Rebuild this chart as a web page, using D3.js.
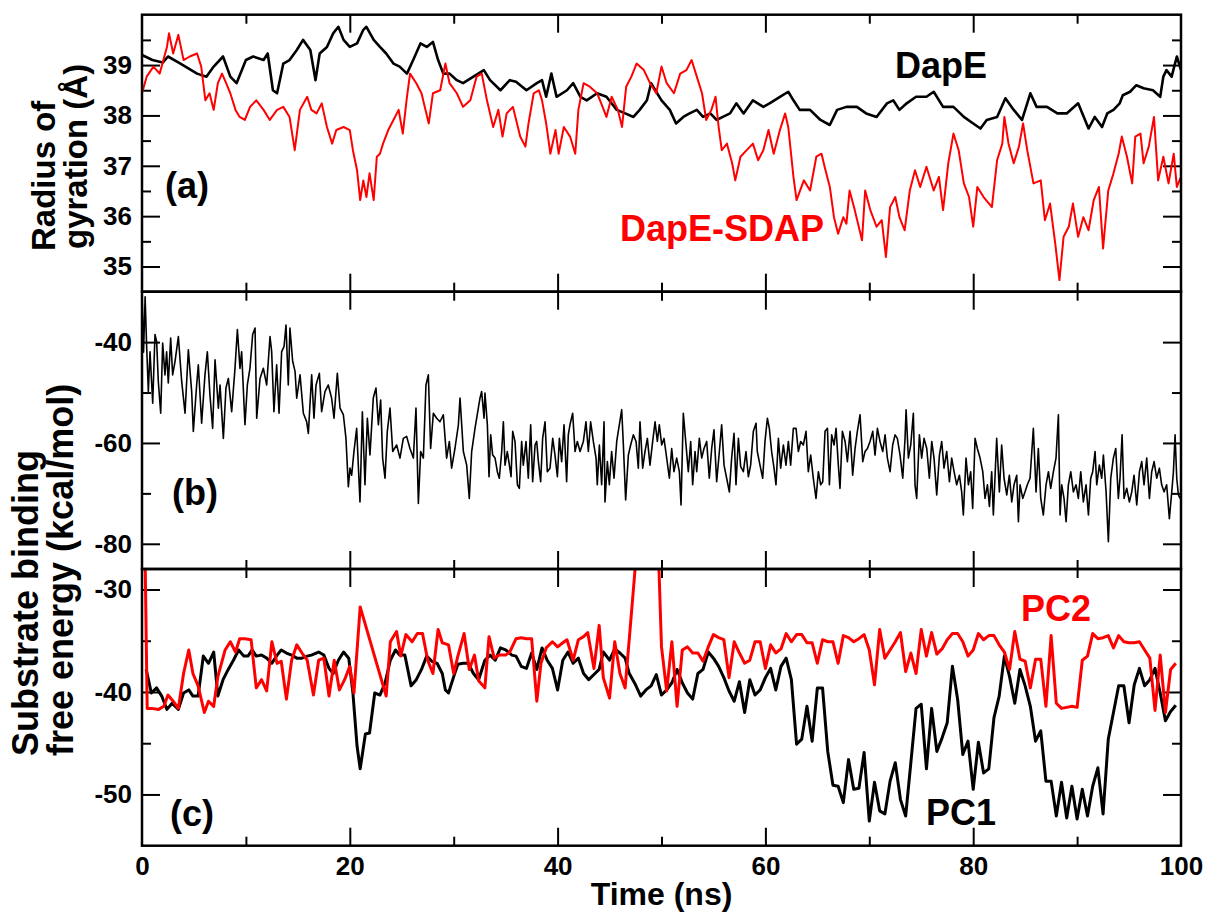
<!DOCTYPE html>
<html>
<head>
<meta charset="utf-8">
<script src="https://cdn.jsdelivr.net/npm/d3@7"></script>
<style>
  body { margin: 0; background: #fff; }
  text { font-family: "Liberation Sans", Arial, Helvetica, sans-serif; font-weight: bold; }
</style>
</head>
<body>
<div id="chart"></div>
<script>
// ---- panel (a): radius of gyration (Å) ----
const dapeTime = [
  0,1,2,2.5,3.7,5.3,6.2,6.9,7.8,8.5,
  9.1,10,10.7,11.7,12.1,12.6,13,13.6,14.2,14.9,
  15.5,16.2,16.7,17.1,17.8,18.4,18.9,19.4,20,20.7,
  21.3,21.6,22.3,22.9,23.5,24.2,24.8,25.5,26.1,26.8,
  27.4,28,28.5,29,29.6,30.3,30.9,31.9,32.9,33.5,
  34.5,35.4,36,37,38,38.5,38.9,39.4,39.9,40.9,
  41.5,42.2,42.8,43.8,44.7,45.7,46.5,47.3,47.9,48.6,
  49,49.4,50,50.8,51.4,52.1,52.7,53.4,54,54.7,
  55.3,55.9,56.6,57.2,57.9,58.8,59.8,60.4,61.4,62.2,
  62.7,63.3,64.3,65.3,66.2,66.9,67.8,68.8,69.7,70.7,
  71.7,72.3,72.9,73.6,74.5,75.5,76.2,77.1,78.1,79.1,
  80,80.7,81.3,82.3,83.1,83.9,84.7,85.5,86.1,87.1,
  88.1,89,90.1,91.1,91.7,92.4,92.9,93.5,94.1,94.4,
  95.1,95.7,96.4,97.3,98,98.3,98.6,99.1,99.6,100
];
const dapeRg = [
  39.2,39.1,39.05,39.17,39.03,38.83,38.77,38.97,39.17,38.77,
  38.64,39.1,39.17,39.1,39.23,38.5,38.44,39.03,39.1,39.3,
  39.5,39.3,38.7,39.23,39.36,39.63,39.76,39.5,39.36,39.43,
  39.7,39.76,39.5,39.36,39.23,39.03,38.97,38.83,39.1,39.43,
  39.36,39.46,39.1,38.83,38.83,38.7,38.64,38.77,38.9,38.7,
  38.5,38.7,38.67,38.5,38.64,38.7,38.37,38.83,38.37,38.5,
  38.64,38.37,38.3,38.44,38.37,38.11,38.04,37.97,38.11,38.3,
  38.64,38.5,38.3,38.11,37.84,37.97,38.04,38.11,37.97,38.04,
  37.91,37.97,38.04,38.24,38.04,38.3,38.17,38.24,38.37,38.47,
  38.3,38.11,38.11,37.91,37.81,38.11,38.17,38.17,38.04,37.97,
  38.24,38.3,38.11,38.24,38.37,38.37,38.47,38.17,38.17,37.97,
  37.84,37.74,37.91,37.97,38.34,38.11,37.91,38.44,38.17,38.17,
  38.04,38.04,38.24,37.74,37.97,37.77,38.04,38.11,38.24,38.4,
  38.47,38.6,38.54,38.5,38.37,38.77,38.9,38.77,39.17,38.9
];
const sdapTime = [
  0,0.45,1.1,1.7,2.4,2.6,3,3.5,4,4.6,
  5.3,5.7,6.1,6.5,6.9,7.3,7.7,8.1,8.5,9,
  9.4,9.9,10.4,11,11.7,12.3,13,13.6,14.2,14.7,
  15.2,15.9,16.3,16.8,17.3,17.8,18.3,18.7,19.4,20,
  20.3,20.7,21,21.3,21.6,21.9,22.3,22.6,22.9,23.2,
  23.7,24.2,24.7,25.1,25.5,25.8,26.4,26.9,27.6,28,
  28.7,29.2,29.6,30.3,30.9,31.6,32.2,32.7,33.2,33.8,
  34.3,34.7,35.1,35.7,36.4,36.9,37.2,37.7,38.2,38.5,
  38.9,39.3,39.8,40.1,40.6,41.2,41.7,42,42.5,43.1,
  43.8,44.2,44.7,45.2,45.8,46.2,46.6,47.1,47.6,48.3,
  48.9,49.5,50,50.5,51.2,51.8,52.4,52.9,53.4,53.9,
  54.3,54.8,55.2,55.5,55.8,56.3,56.8,57.1,57.6,58.2,
  58.8,59.3,59.8,60.3,60.8,61.4,61.9,62.2,62.7,63,
  63.7,64.3,64.9,65.4,65.7,66.2,66.6,67,67.5,67.8,
  68.1,68.6,69.3,69.6,70.1,70.7,71.2,71.6,72,72.5,
  72.9,73.4,73.9,74.4,74.9,75.5,76.2,76.7,77.1,77.6,
  78.1,78.6,79.1,79.6,80,80.4,81,81.8,82.3,82.8,
  83,83.4,83.9,84.4,84.8,85.2,85.8,86.5,86.9,87.4,
  87.9,88.3,88.7,89.2,89.6,90.1,90.6,91.1,91.6,92.1,
  92.5,93,93.5,94,94.3,94.8,95.3,95.6,96.1,96.4,
  96.9,97.4,97.8,98.3,98.8,99.3,99.6,100
];
const sdapRg = [
  38.44,38.77,38.97,38.83,39.36,39.63,39.23,39.6,39.1,39.17,
  39.23,38.97,38.3,38.44,38.11,38.64,38.83,38.64,38.44,38.11,
  37.97,37.91,38.17,38.3,38.11,37.91,38.11,38.17,37.97,37.31,
  38.11,38.37,38.11,38.04,38.24,37.77,37.44,37.71,37.77,37.71,
  37.31,36.91,36.32,36.71,36.38,36.85,36.32,37.18,37.24,37.44,
  37.71,37.91,38.11,37.64,38.37,38.83,38.64,38.44,37.84,38.44,
  38.5,39.03,38.64,38.44,38.17,38.3,38.77,38.83,38.3,37.77,
  38.11,37.58,38.04,38.17,37.58,37.38,37.84,38.44,38.5,38.3,
  37.84,37.24,37.71,37.24,37.77,37.58,37.24,38.11,38.64,38.57,
  38.44,38.24,37.97,38.37,38.11,37.77,38.57,38.77,39.03,38.9,
  38.64,38.44,38.97,38.64,38.44,38.83,38.9,39.1,38.77,38.44,
  37.91,38.11,38.37,37.77,37.31,37.44,37.05,36.71,37.18,37.31,
  37.44,37.11,37.31,37.71,37.24,37.71,38.04,37.77,36.78,36.32,
  36.71,36.51,37.18,37.24,36.98,36.58,35.98,35.65,35.98,35.85,
  36.51,36.12,35.52,36.51,36.12,35.79,35.92,35.19,36.18,36.38,
  35.98,35.72,36.51,36.91,36.58,36.98,36.51,36.78,36.12,37.05,
  37.64,37.31,36.65,36.38,35.79,36.58,36.38,36.18,37.11,37.44,
  37.97,37.44,37.05,37.38,37.84,37.31,36.65,36.71,35.92,36.25,
  35.45,34.73,35.59,35.79,36.25,35.59,35.98,35.72,36.32,36.58,
  35.36,36.51,36.85,37.24,37.58,37.18,36.65,37.58,37.64,37.05,
  37.38,37.97,36.71,37.18,36.65,37.24,36.58,36.78
];

// ---- panel (b): substrate binding free energy (kcal/mol) ----
const bindTime = [
  0,0.15,0.3,0.45,0.61,0.77,1.03,1.25,1.41,1.57,
  1.8,1.99,2.21,2.37,2.53,2.76,2.95,3.18,3.5,3.82,
  4.14,4.46,4.78,4.94,5.26,5.42,5.74,6.06,6.29,6.54,
  6.8,7.03,7.35,7.51,7.83,8.08,8.31,8.63,8.95,9.18,
  9.43,9.59,9.91,10.14,10.39,10.65,10.88,11.04,11.36,11.68,
  12,12.32,12.48,12.7,12.96,13.19,13.44,13.67,13.86,14.08,
  14.24,14.5,14.73,14.89,15.21,15.53,15.85,16.01,16.33,16.55,
  16.75,17.07,17.29,17.61,17.93,18.25,18.48,18.8,19.06,19.38,
  19.63,19.86,20.02,20.18,20.4,20.66,20.98,21.21,21.46,21.69,
  21.94,22.26,22.52,22.75,22.97,23.16,23.39,23.61,23.87,24.13,
  24.51,24.83,25.15,25.47,25.79,26.12,26.37,26.6,26.82,27.08,
  27.33,27.56,27.78,28.04,28.36,28.68,29,29.32,29.58,29.8,
  30.12,30.45,30.61,30.93,31.25,31.5,31.73,32.05,32.37,32.53,
  32.69,32.92,33.01,33.24,33.4,33.56,33.75,33.98,34.2,34.39,
  34.62,34.78,34.94,35.16,35.36,35.52,35.68,35.9,36.13,36.32,
  36.54,36.7,36.96,37.18,37.41,37.6,37.83,37.99,38.15,38.37,
  38.56,38.79,39.01,39.27,39.53,39.75,39.98,40.17,40.39,40.62,
  40.87,41.03,41.19,41.45,41.68,41.9,42.16,42.48,42.73,42.96,
  43.18,43.44,43.7,43.82,44.02,44.24,44.47,44.56,44.79,44.98,
  45.2,45.43,45.69,45.94,46.17,46.33,46.55,46.81,47.03,47.29,
  47.55,47.77,47.93,48.19,48.41,48.64,48.89,49.15,49.38,49.6,
  49.79,50.02,50.24,50.5,50.76,50.98,51.2,51.46,51.72,51.88,
  52.1,52.36,52.58,52.81,53,53.23,53.39,53.64,53.87,54.09,
  54.35,54.6,54.83,55.05,55.31,55.57,55.79,56.02,56.27,56.53,
  56.75,56.98,57.17,57.4,57.62,57.88,58.13,58.36,58.58,58.84,
  59.1,59.22,59.48,59.74,59.96,60.19,60.38,60.6,60.83,61.02,
  61.25,61.47,61.73,61.98,62.21,62.43,62.69,62.95,63.17,63.4,
  63.65,63.91,64.13,64.36,64.61,64.87,65.1,65.32,65.52,65.74,
  65.97,66.16,66.38,66.61,66.8,67.02,67.18,67.41,67.67,67.89,
  68.15,68.4,68.63,68.85,69.11,69.37,69.59,69.82,70.07,70.33,
  70.55,70.78,71.03,71.29,71.52,71.74,72,72.25,72.48,72.7,
  72.96,73.22,73.44,73.54,73.76,73.99,74.24,74.4,74.56,74.82,
  75.04,75.27,75.53,75.78,76.01,76.23,76.49,76.75,76.97,77.19,
  77.45,77.71,77.93,78.16,78.41,78.67,78.89,79.05,79.31,79.54,
  79.76,79.95,80.18,80.4,80.66,80.92,81.14,81.37,81.56,81.78,
  81.94,82.26,82.52,82.74,82.97,83.23,83.48,83.71,83.93,84.19,
  84.35,84.51,84.77,84.99,85.21,85.47,85.79,86.05,86.27,86.5,
  86.75,87.01,87.24,87.46,87.72,87.97,88.2,88.36,88.52,88.74,
  88.94,89.16,89.39,89.64,89.9,90.12,90.35,90.6,90.86,91.09,
  91.31,91.5,91.73,91.89,92.14,92.37,92.53,92.79,93.01,93.24,
  93.49,93.72,93.97,94.13,94.33,94.52,94.78,95.03,95.26,95.48,
  95.74,96,96.22,96.44,96.7,96.96,97.18,97.41,97.66,97.92,
  98.14,98.37,98.62,98.88,99.11,99.27,99.43,99.59,99.75,99.91
];
const bindEnergy = [
  -30,-42,-31,-41,-49.8,-41.9,-52.1,-38.5,-39.9,-47.8,
  -54.1,-40.2,-46.5,-41.9,-48.1,-39.2,-46.5,-43.8,-38.9,-47.8,
  -54.1,-41.5,-49.8,-57.7,-48.5,-44.5,-56.1,-46.5,-41.9,-50.5,
  -57.1,-43.5,-53.1,-48.5,-59.1,-49.1,-47.2,-53.8,-45.2,-37.5,
  -45.2,-41.9,-56.4,-48.5,-45.2,-38.5,-37.2,-55.1,-47.2,-45.2,
  -48.5,-38.9,-41.9,-53.8,-44.5,-54.1,-41.9,-40.9,-36.6,-48.5,
  -37.2,-43.8,-45.8,-51.1,-46.5,-54.1,-55.8,-58.1,-46.5,-55.1,
  -48.5,-46.2,-53.8,-49.8,-48.5,-51.1,-55.1,-46.2,-53.1,-54.4,
  -59.1,-68.7,-65,-66.4,-61.7,-57.1,-71.7,-53.8,-68.3,-55.1,
  -62.4,-51.1,-49.1,-56.4,-51.5,-63,-67,-57.7,-53.1,-61.7,
  -60.4,-63,-59.1,-58.7,-61.1,-63,-53.1,-72,-61.7,-63,
  -48.5,-46.5,-61.1,-54.1,-55.1,-55.8,-54.4,-63,-59.7,-65,
  -61.1,-56.4,-51.1,-61.7,-64.4,-71,-61.7,-57.1,-53.1,-51.1,
  -49.8,-55.1,-50.1,-56.4,-66.7,-58.4,-62.4,-63,-65.7,-67,
  -61.7,-55.8,-64.4,-61.7,-64.4,-66.7,-57.7,-59.7,-68.3,-69,
  -59.7,-64.4,-59.7,-67,-56.4,-67.7,-60.4,-59.7,-63.7,-67.7,
  -59.1,-55.8,-65.7,-65,-59.1,-62.4,-66.7,-59.1,-63.7,-56.4,
  -67.7,-58.4,-56.4,-54.1,-61.7,-59.7,-61.7,-59.7,-55.8,-61.7,
  -55.8,-59.7,-63,-68.3,-60.4,-68.3,-55.8,-71.7,-63.7,-68.3,
  -61.7,-67,-59.7,-56.4,-53.4,-60.4,-71.3,-62.4,-60.4,-58.4,
  -59.7,-65,-55.8,-65,-61.7,-59.1,-64.4,-59.7,-55.8,-59.7,
  -56.4,-60.4,-59.1,-63,-67,-61.1,-65.7,-63,-65.7,-72.3,
  -54.1,-60.4,-65.7,-59.7,-68.3,-61.7,-65.7,-59.1,-63,-61.1,
  -59.7,-67,-61.1,-57.4,-67.7,-61.7,-56.4,-64.4,-67,-69.7,
  -63,-58.1,-68.3,-59.1,-64.7,-65.7,-61.7,-66.7,-64.4,-57.7,
  -56.1,-61.7,-64.4,-67,-59.7,-55.1,-57.1,-61.7,-65,-68.3,
  -59.1,-65,-60.4,-64.4,-59.7,-64.4,-57.1,-57.1,-61.7,-59.7,
  -60.4,-57.7,-65.7,-62.4,-67,-71,-65.7,-68.3,-67.7,-57.7,
  -57.1,-68.3,-58.4,-60.4,-57.1,-64.4,-69,-57.7,-59.7,-63.7,
  -57.7,-66.4,-61.1,-57.7,-54.4,-63.7,-61.7,-61.1,-59.7,-57.7,
  -62.4,-57.1,-59.7,-61.7,-58.4,-63,-65.7,-60.4,-58.4,-59.1,
  -62.4,-67,-59.1,-53.4,-63,-60.4,-54.1,-68.3,-71,-58.4,
  -63,-59.1,-61.1,-67,-59.7,-63,-70.3,-62.4,-59.7,-65,
  -61.7,-67.7,-63,-65.7,-68.3,-66.4,-69.7,-74.3,-63,-68.3,
  -65.7,-73,-59.1,-61.1,-63,-65.7,-71,-68.3,-72.6,-65.7,
  -74.3,-59.1,-69.7,-60.4,-67,-70.3,-66.4,-71.7,-68.3,-66.4,
  -75.6,-68.3,-71,-69.7,-68.3,-67,-57.1,-69.7,-61.1,-71,
  -74.3,-68.3,-65.7,-69,-65.7,-63,-54.4,-74.3,-68.3,-71,
  -75.6,-68.3,-65.7,-69.7,-68.3,-71,-65.7,-71.7,-68.3,-74.3,
  -67,-65.7,-61.7,-68.3,-64.4,-67,-62.4,-69.7,-79.6,-67,
  -63,-61.1,-71,-67,-58.4,-71,-69,-71.7,-69.7,-66.4,
  -72.3,-65.7,-63.7,-68.3,-63,-71,-65.7,-63.7,-67,-65,
  -68.3,-69.7,-68.3,-75,-69.7,-65.7,-58.4,-67,-70.3,-71
];

// ---- panel (c): PC1 / PC2 (kcal/mol) ----
const pc1Time = [
  0.4,0.9,1.4,1.9,2.4,2.9,3.5,4,4.5,4.9,
  5.4,5.9,6.4,6.9,7.3,7.8,8.3,8.8,9.3,9.8,
  10.2,10.6,11,11.5,12,12.5,13,13.4,13.9,14.4,
  14.9,15.4,15.9,16.3,17,17.5,18,18.4,18.9,19.4,
  19.9,20.3,20.7,21,21.5,21.9,22.4,22.9,23.4,23.9,
  24.4,24.8,25.3,25.9,26.4,26.9,27.4,27.9,28.4,28.9,
  29.2,29.5,30,30.4,30.9,31.4,31.9,32.4,33,33.5,
  34,34.5,35,35.6,36,36.5,37,37.5,38,38.5,
  39,39.5,40,40.5,41,41.5,42,42.5,43,43.5,
  44,44.4,45,45.5,46,46.5,46.9,47.5,48,48.5,
  49,49.5,50,50.5,51,51.5,52,52.5,53,53.5,
  54,54.5,55,55.5,56,56.5,57,57.5,58,58.5,
  59,59.5,60,60.5,61,61.5,62,62.5,63,63.5,
  64,64.5,65,65.5,66,66.5,67,67.5,68,68.5,
  69,69.5,70,70.5,71,71.5,72,72.5,73,73.5,
  74,74.5,75,75.5,76,76.5,77,77.5,78,78.5,
  79,79.5,80,80.5,81,81.5,82,82.5,83,83.5,
  84,84.5,85,85.5,86,86.5,87,87.5,88,88.5,
  89,89.5,90,90.5,91,91.5,92,92.5,93,93.5,
  94,94.5,95,95.5,96,96.5,97,97.5,98,98.5,
  99,99.5
];
const pc1Energy = [
  -37.8,-40.1,-39.6,-40.4,-41.7,-41.1,-41.7,-40.1,-39.8,-40.4,
  -40.4,-36.5,-37.2,-36.1,-40.4,-38.8,-37.8,-36.9,-35.9,-36.5,
  -36.5,-35.9,-36.5,-36.4,-36.7,-37.2,-36.4,-35.9,-36.2,-36.4,
  -36.7,-36.7,-36.5,-36.4,-36.1,-36.4,-37.7,-38.2,-36.9,-36.1,
  -36.7,-40.1,-45.3,-47.5,-44.1,-44,-40.1,-40.3,-39.1,-36.9,
  -35.9,-36.4,-36.4,-39.4,-38.8,-37.8,-36.5,-37,-37.2,-38.2,
  -39.8,-40.1,-38.5,-37.3,-37.2,-37.2,-38.2,-38.8,-36.9,-36.4,
  -36.9,-35.7,-35.9,-36.4,-36.5,-37.5,-37.7,-36.2,-37.8,-35.7,
  -36.9,-37.7,-39.8,-36.9,-36.1,-37.2,-36.7,-38.2,-38.8,-38.3,
  -37.8,-36.1,-36.9,-35.8,-36.2,-36.7,-38.2,-39.3,-40.4,-39.8,
  -39.4,-38.3,-40.3,-39.8,-39.1,-37.8,-39.1,-40.1,-40.7,-38.2,
  -37.8,-36.1,-36.7,-37.5,-38.6,-39.9,-40.9,-39,-42,-38.8,
  -40.3,-39.8,-38.6,-37.7,-39.8,-37.5,-36.7,-38.8,-45.1,-44.6,
  -41.4,-44.8,-39.6,-39.6,-45.8,-49.1,-49.2,-50.8,-46.6,-49.5,
  -49.4,-45.9,-52.6,-48.8,-51.6,-51.9,-48.7,-46.9,-50.5,-52.1,
  -46.9,-41.6,-41.2,-47.5,-41.6,-45.8,-44.5,-43,-37.5,-40.7,
  -46.1,-44.8,-49.5,-44.9,-47.9,-47.5,-42.5,-40.4,-36.5,-38.5,
  -41.1,-37.8,-39.4,-41.4,-44.8,-43.8,-48.7,-48.7,-52.1,-48.8,
  -52.3,-49.2,-52.4,-49.5,-52.1,-49.2,-47.4,-51.9,-44.6,-42,
  -39.4,-39.4,-43,-39.3,-37.7,-39.4,-38.8,-37.7,-40.1,-42.8,
  -41.9,-41.3
];
const pc2Time = [
  0.3,0.5,0.9,1.6,2.1,2.5,3,3.5,4,4.5,
  4.9,5.4,6,6.4,6.9,7.3,8,8.5,9,9.4,
  9.9,10.5,11,11.5,12,12.5,13,13.4,13.9,14.4,
  14.9,15.4,15.9,16.5,17,17.5,18,18.5,19,19.5,
  20,20.4,21,23.5,23.9,24.5,24.9,25.4,26,26.5,
  27,27.5,28,28.5,28.9,29.5,30,30.4,31,31.5,
  32,32.4,33,33.4,33.9,34.4,35,35.4,36,36.5,
  37,37.5,38,38.4,38.9,39.5,40,40.5,40.9,41.5,
  42,42.5,42.9,43.5,44,44.4,45,45.5,46,46.5,
  47,47.5,48,48.5,49,49.5,50,50.5,51,51.5,
  52,52.5,53,53.5,54,54.5,55,55.5,56,56.5,
  57,57.5,58,58.5,59,59.5,60,60.5,61,61.5,
  62,62.5,63,63.5,64,64.5,65,65.5,66,66.5,
  67,67.5,68,68.5,69,69.5,70,70.5,71,71.5,
  72,72.5,73,73.5,74,74.5,75,75.5,76,76.5,
  77,77.5,78,78.5,79,79.5,80,80.5,81,81.5,
  82,82.5,83,83.5,84,84.5,85,85.5,86,86.5,
  87,87.5,88,88.5,89,89.5,90,90.5,91,91.5,
  92,92.5,93,93.5,94,94.5,95,95.5,96,96.5,
  97,97.5,98,98.5,99,99.5
];
const pc2Energy = [
  -27,-41.6,-41.6,-41.7,-41.4,-40.3,-40.9,-41.6,-38.2,-35.9,
  -38.2,-39.4,-42,-40.9,-41.4,-38.5,-35.9,-35.1,-36.1,-34.8,
  -34.8,-34.9,-39.6,-38.8,-39.9,-35.1,-37.2,-37,-40.7,-36.9,
  -35.4,-36.2,-36.9,-40.3,-36.9,-36.7,-40.4,-36.9,-39.8,-38.8,
  -37.5,-40.1,-31.7,-40.4,-35.1,-34.1,-36.5,-34.4,-35.1,-34.3,
  -34.3,-36.9,-38.2,-33.9,-35.2,-35.4,-38.2,-36.5,-34.3,-37.8,
  -36.4,-38.9,-39.6,-34.6,-36.7,-36.4,-36.4,-36.1,-34.8,-34.7,
  -34.8,-34.8,-40.9,-37.2,-35.7,-35.1,-35.6,-35.2,-34.9,-36.9,
  -34.9,-34.6,-34.2,-37.7,-33.5,-38.6,-40.6,-35.1,-38.2,-39.6,
  -33.6,-27.5,-18,-15,-16,-20,-35.6,-39.9,-35.1,-41.4,
  -35.9,-35.6,-36.2,-36.2,-37,-35.6,-34.4,-34.7,-34.9,-38.6,
  -35.1,-36.2,-37.2,-36.9,-35.1,-35.1,-37.7,-35.4,-36.2,-35.8,
  -34.3,-35.1,-34.4,-34.4,-35.2,-35.2,-37.2,-34.9,-35.1,-35.1,
  -37.2,-34.5,-34.7,-35.1,-34.8,-34.4,-35.9,-39.3,-33.9,-36.7,
  -35.9,-35.1,-34.2,-38,-36.2,-38.2,-33.9,-36.5,-34.2,-36.3,
  -35.8,-34.9,-34.3,-34.3,-35.1,-36.5,-35.9,-34.3,-34.9,-34.5,
  -34.5,-35.4,-36.1,-37.8,-34.1,-36.8,-37,-39.6,-36.8,-36.8,
  -41.4,-34.5,-41.1,-41.6,-41.5,-41.4,-41.5,-36.9,-36.5,-34.3,
  -34.8,-34.7,-34.5,-35.7,-34.5,-35.1,-35.2,-35.2,-35.1,-35.9,
  -36.7,-41.8,-36.4,-42,-37.8,-37.2
];

// ticks and labels
const timeTicks = [0, 20, 40, 60, 80, 100];
const timeMinor = [10, 30, 50, 70, 90];
const rgTicks = [35, 36, 37, 38, 39];
const rgMinor = [35.5, 36.5, 37.5, 38.5, 39.5];
const bindTicks = [-40, -60, -80];
const bindMinor = [-50, -70];
const pcTicks = [-30, -40, -50];
const pcMinor = [-35, -45];

const width = 1207, height = 915;
const left = 142, right = 1181;
const red = "#ff0000";
const fontFamily = "'Liberation Sans', Arial, Helvetica, sans-serif";
const plain = d => String(d); // keep the ascii hyphen as minus sign

const svg = d3.select("#chart").append("svg")
  .attr("width", width)
  .attr("height", height)
  .style("background", "#fff");

const x = d3.scaleLinear().domain([0, 100]).range([left, right]);

const panels = [
  { id: "a", top: 14.7, bottom: 291.7, domain: [34.5, 40], major: rgTicks, minor: rgMinor },
  { id: "b", top: 291.7, bottom: 569, domain: [-85, -30], major: bindTicks, minor: bindMinor },
  { id: "c", top: 569, bottom: 845.7, domain: [-55, -28], major: pcTicks, minor: pcMinor },
];

const styleAxis = g => {
  g.select(".domain").remove();
  g.selectAll("line").attr("stroke", "#000").attr("stroke-width", 2);
  g.selectAll("text").attr("font-size", 26).attr("fill", "#000")
    .style("font-family", fontFamily).style("font-weight", "bold");
};

panels.forEach(p => {
  p.y = d3.scaleLinear().domain(p.domain).range([p.bottom, p.top]);

  svg.append("clipPath").attr("id", "clip-" + p.id)
    .append("rect")
    .attr("x", left).attr("y", p.top)
    .attr("width", right - left).attr("height", p.bottom - p.top);

  // y ticks, labelled on the left, mirrored on the right (all pointing in)
  const addY = (axisFn, xpos, values, size, labels) => {
    svg.append("g")
      .attr("transform", `translate(${xpos},0)`)
      .call(axisFn(p.y).tickValues(values).tickSizeInner(-size).tickSizeOuter(0)
        .tickPadding(10).tickFormat(labels ? plain : ""))
      .call(styleAxis);
  };
  addY(d3.axisLeft, left, p.major, 18, true);
  addY(d3.axisLeft, left, p.minor, 9, false);
  addY(d3.axisRight, right, p.major, 18, false);
  addY(d3.axisRight, right, p.minor, 9, false);

  // x ticks on top and bottom of every panel
  const addX = (axisFn, ypos, values, size) => {
    svg.append("g")
      .attr("transform", `translate(0,${ypos})`)
      .call(axisFn(x).tickValues(values).tickSizeInner(-size).tickSizeOuter(0).tickFormat(""))
      .call(styleAxis);
  };
  addX(d3.axisTop, p.top, timeTicks.slice(1, -1), 18);
  addX(d3.axisTop, p.top, timeMinor, 9);
  addX(d3.axisBottom, p.bottom, timeTicks.slice(1, -1), 18);
  addX(d3.axisBottom, p.bottom, timeMinor, 9);
});

// time labels only under panel (c)
svg.append("g")
  .attr("transform", `translate(0,${panels[2].bottom})`)
  .call(d3.axisBottom(x).tickValues(timeTicks).tickSize(0).tickPadding(11).tickFormat(plain))
  .call(styleAxis);

// series
const drawSeries = (p, times, values, color, widthPx) => {
  const pts = d3.zip(times, values);
  const line = d3.line().x(d => x(d[0])).y(d => p.y(d[1]));
  svg.append("path")
    .datum(pts)
    .attr("clip-path", `url(#clip-${p.id})`)
    .attr("fill", "none")
    .attr("stroke", color)
    .attr("stroke-width", widthPx)
    .attr("stroke-linejoin", "round")
    .attr("d", line);
};
drawSeries(panels[0], dapeTime, dapeRg, "#000", 2.6);
drawSeries(panels[0], sdapTime, sdapRg, red, 2);
drawSeries(panels[1], bindTime, bindEnergy, "#000", 1.6);
drawSeries(panels[2], pc1Time, pc1Energy, "#000", 3);
drawSeries(panels[2], pc2Time, pc2Energy, red, 3);

// panel frames
panels.forEach(p => {
  svg.append("rect")
    .attr("x", left).attr("y", p.top)
    .attr("width", right - left).attr("height", p.bottom - p.top)
    .attr("fill", "none").attr("stroke", "#000").attr("stroke-width", 2.5);
});

// annotations
const label = (txt, xp, yp, color, size) => svg.append("text")
  .attr("x", xp).attr("y", yp).attr("fill", color).attr("font-size", size).text(txt);
label("DapE", 895, 78, "#000", 36);
label("DapE-SDAP", 620, 241, red, 36);
label("(a)", 165, 198, "#000", 36);
label("(b)", 172, 505, "#000", 36);
label("(c)", 170, 826, "#000", 36);
label("PC2", 1021, 621, red, 36);
label("PC1", 926, 825, "#000", 36);

// axis titles (rotated, lines start at the bottom)
const vtitle = (txt, xp, yp, size) => svg.append("text")
  .attr("transform", `translate(${xp},${yp}) rotate(-90)`)
  .attr("font-size", size).attr("fill", "#000").text(txt);
vtitle("Radius of", 55, 251, 33);
vtitle("gyration (Å)", 87, 249, 33);
vtitle("Substrate binding", 38, 756, 36);
vtitle("free energy (kcal/mol)", 73, 756, 36);

svg.append("text")
  .attr("x", (left + right) / 2).attr("y", 905)
  .attr("text-anchor", "middle").attr("font-size", 32).attr("fill", "#000")
  .text("Time (ns)");
</script>
</body>
</html>
